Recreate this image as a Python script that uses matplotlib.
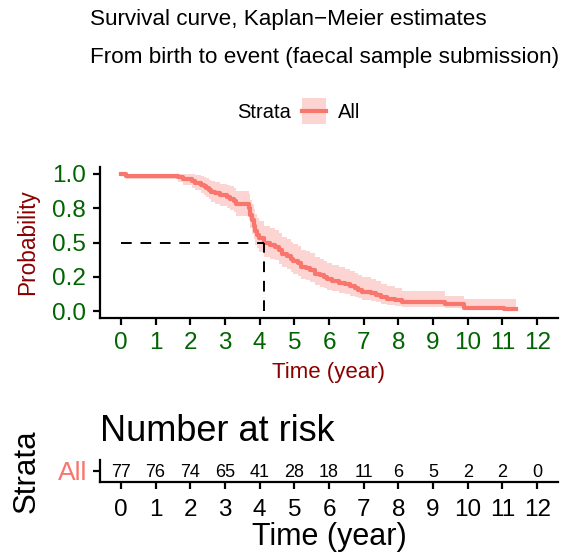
import matplotlib
matplotlib.use("Agg")
import matplotlib.pyplot as plt
from matplotlib.patches import Rectangle
from matplotlib.lines import Line2D

plt.rcParams['font.family'] = ['Liberation Sans', 'DejaVu Sans']

# Kaplan-Meier step curve (time, survival, 95% CI)
times = [0.0, 0.14, 1.65, 1.8, 2.05, 2.15, 2.3, 2.4, 2.45, 2.55, 2.6, 2.7,
         2.85, 3.05, 3.15, 3.25, 3.32, 3.68, 3.72, 3.78, 3.83, 3.88, 3.93,
         3.98, 4.12, 4.3, 4.45, 4.55, 4.65, 4.8, 4.9, 4.97, 5.1, 5.2, 5.35,
         5.45, 5.6, 5.75, 5.85, 5.95, 6.1, 6.3, 6.45, 6.6, 6.75, 6.85, 6.95,
         7.2, 7.35, 7.5, 7.66, 7.9, 8.1, 9.35, 9.88, 11.03, 11.4]
surv = [1.0, 0.987, 0.974, 0.961, 0.948, 0.935, 0.922, 0.909, 0.896, 0.883,
        0.870, 0.857, 0.844, 0.831, 0.818, 0.805, 0.779, 0.753, 0.701, 0.662,
        0.623, 0.584, 0.558, 0.532, 0.494, 0.481, 0.468, 0.442, 0.416, 0.403,
        0.377, 0.364, 0.351, 0.325, 0.312, 0.299, 0.273, 0.260, 0.247, 0.234,
        0.221, 0.208, 0.195, 0.182, 0.169, 0.156, 0.143, 0.130, 0.117, 0.104,
        0.091, 0.078, 0.065, 0.052, 0.026, 0.013, 0.013]
lower = [1.0, 0.962, 0.939, 0.919, 0.900, 0.882, 0.864, 0.847, 0.830, 0.814,
         0.798, 0.782, 0.767, 0.751, 0.736, 0.721, 0.692, 0.663, 0.606, 0.564,
         0.524, 0.484, 0.457, 0.431, 0.394, 0.381, 0.369, 0.344, 0.319, 0.307,
         0.283, 0.271, 0.259, 0.236, 0.224, 0.212, 0.190, 0.178, 0.167, 0.156,
         0.145, 0.134, 0.124, 0.113, 0.103, 0.093, 0.083, 0.073, 0.063, 0.054,
         0.045, 0.036, 0.028, 0.020, 0.007, 0.002, 0.002]
upper = [1.0, 1.0, 1.0, 1.0, 0.999, 0.992, 0.984, 0.976, 0.967, 0.958,
         0.948, 0.939, 0.929, 0.919, 0.909, 0.899, 0.877, 0.856, 0.811, 0.777,
         0.741, 0.705, 0.681, 0.656, 0.619, 0.607, 0.594, 0.568, 0.542, 0.529,
         0.502, 0.489, 0.476, 0.448, 0.435, 0.421, 0.393, 0.379, 0.365, 0.351,
         0.336, 0.322, 0.307, 0.292, 0.277, 0.262, 0.247, 0.232, 0.216, 0.200,
         0.184, 0.168, 0.150, 0.109, 0.090, 0.090, 0.090]
median_time = 4.12

risk_times = [0, 1, 2, 3, 4, 5, 6, 7, 8, 9, 10, 11, 12]
n_risk = [77, 76, 74, 65, 41, 28, 18, 11, 6, 5, 2, 2, 0]
strata = ['All']

col = '#F8766D'
W, H = 577, 557
fig = plt.figure(figsize=(W / 100, H / 100), dpi=100)

# --- main survival plot ---
ax = fig.add_axes([100 / W, 1 - 318 / H, 458 / W, 151 / H])
ax.fill_between(times, lower, upper, step='post', color=col, alpha=0.3, lw=0)
ax.step(times, surv, where='post', color=col, lw=3)
ax.plot([0, median_time], [0.5, 0.5], ls=(0, (5.5, 4.5)), color='black', lw=1.4)
ax.plot([median_time, median_time], [0, 0.5], ls=(0, (5.5, 4.5)), color='black', lw=1.4)
ax.set_xlim(-0.6, 12.6)
ax.set_ylim(-0.05, 1.05)
ax.set_xticks(risk_times)
ax.set_yticks([0, 0.25, 0.5, 0.75, 1.0])
ax.set_yticklabels(['0.0', '0.2', '0.5', '0.8', '1.0'])
for s in ['top', 'right']:
    ax.spines[s].set_visible(False)
for s in ['left', 'bottom']:
    ax.spines[s].set_linewidth(1.6)
ax.tick_params(width=1.6, length=5, labelsize=17.5, labelcolor='#006400')
ax.tick_params(axis='x', pad=5)
ax.tick_params(axis='y', pad=5)
ax.set_xlabel('Time (year)', color='#8B0000', fontsize=16, labelpad=6)
ax.set_ylabel('Probability', color='#8B0000', fontsize=16.3, labelpad=9)

# titles
fig.text(90 / W, 1 - 20 / H, 'Survival curve, Kaplan\u2212Meier estimates',
         fontsize=16.2, va='center', ha='left')
fig.text(90 / W, 1 - 57 / H, 'From birth to event (faecal sample submission)',
         fontsize=16.2, va='center', ha='left')

# legend
fig.text(291 / W, 1 - 112 / H, 'Strata', fontsize=14.5, va='center', ha='right')
fig.patches.append(Rectangle((302 / W, 1 - 124 / H), 24 / W, 26 / H,
                             transform=fig.transFigure, color=col, alpha=0.3, lw=0))
fig.lines.append(Line2D([302 / W, 326 / W], [1 - 111 / H, 1 - 111 / H],
                        transform=fig.transFigure, color=col, lw=3))
fig.text(338 / W, 1 - 112 / H, 'All', fontsize=14.5, va='center', ha='left')

# --- number at risk table ---
rt = fig.add_axes([100 / W, 1 - 482 / H, 458 / W, 22 / H])
for t, n in zip(risk_times, n_risk):
    rt.text(t, 0.95, str(n), ha='center', va='center', fontsize=13)
rt.set_xlim(-0.6, 12.6)
rt.set_ylim(0.5, 1.5)
rt.set_xticks(risk_times)
rt.set_yticks([1])
rt.set_yticklabels(strata)
rt.get_yticklabels()[0].set_color(col)
for s in ['top', 'right']:
    rt.spines[s].set_visible(False)
for s in ['left', 'bottom']:
    rt.spines[s].set_linewidth(1.6)
rt.tick_params(axis='x', width=1.6, length=5, labelsize=17.5, pad=7)
rt.tick_params(axis='y', width=1.6, length=5, labelsize=19, pad=4)
rt.set_xlabel('Time (year)', fontsize=22, labelpad=1)
rt.set_ylabel('Strata', fontsize=22.5, labelpad=12)
rt.set_title('Number at risk', fontsize=26, loc='left', pad=14)

fig.savefig('out.png', dpi=100)
